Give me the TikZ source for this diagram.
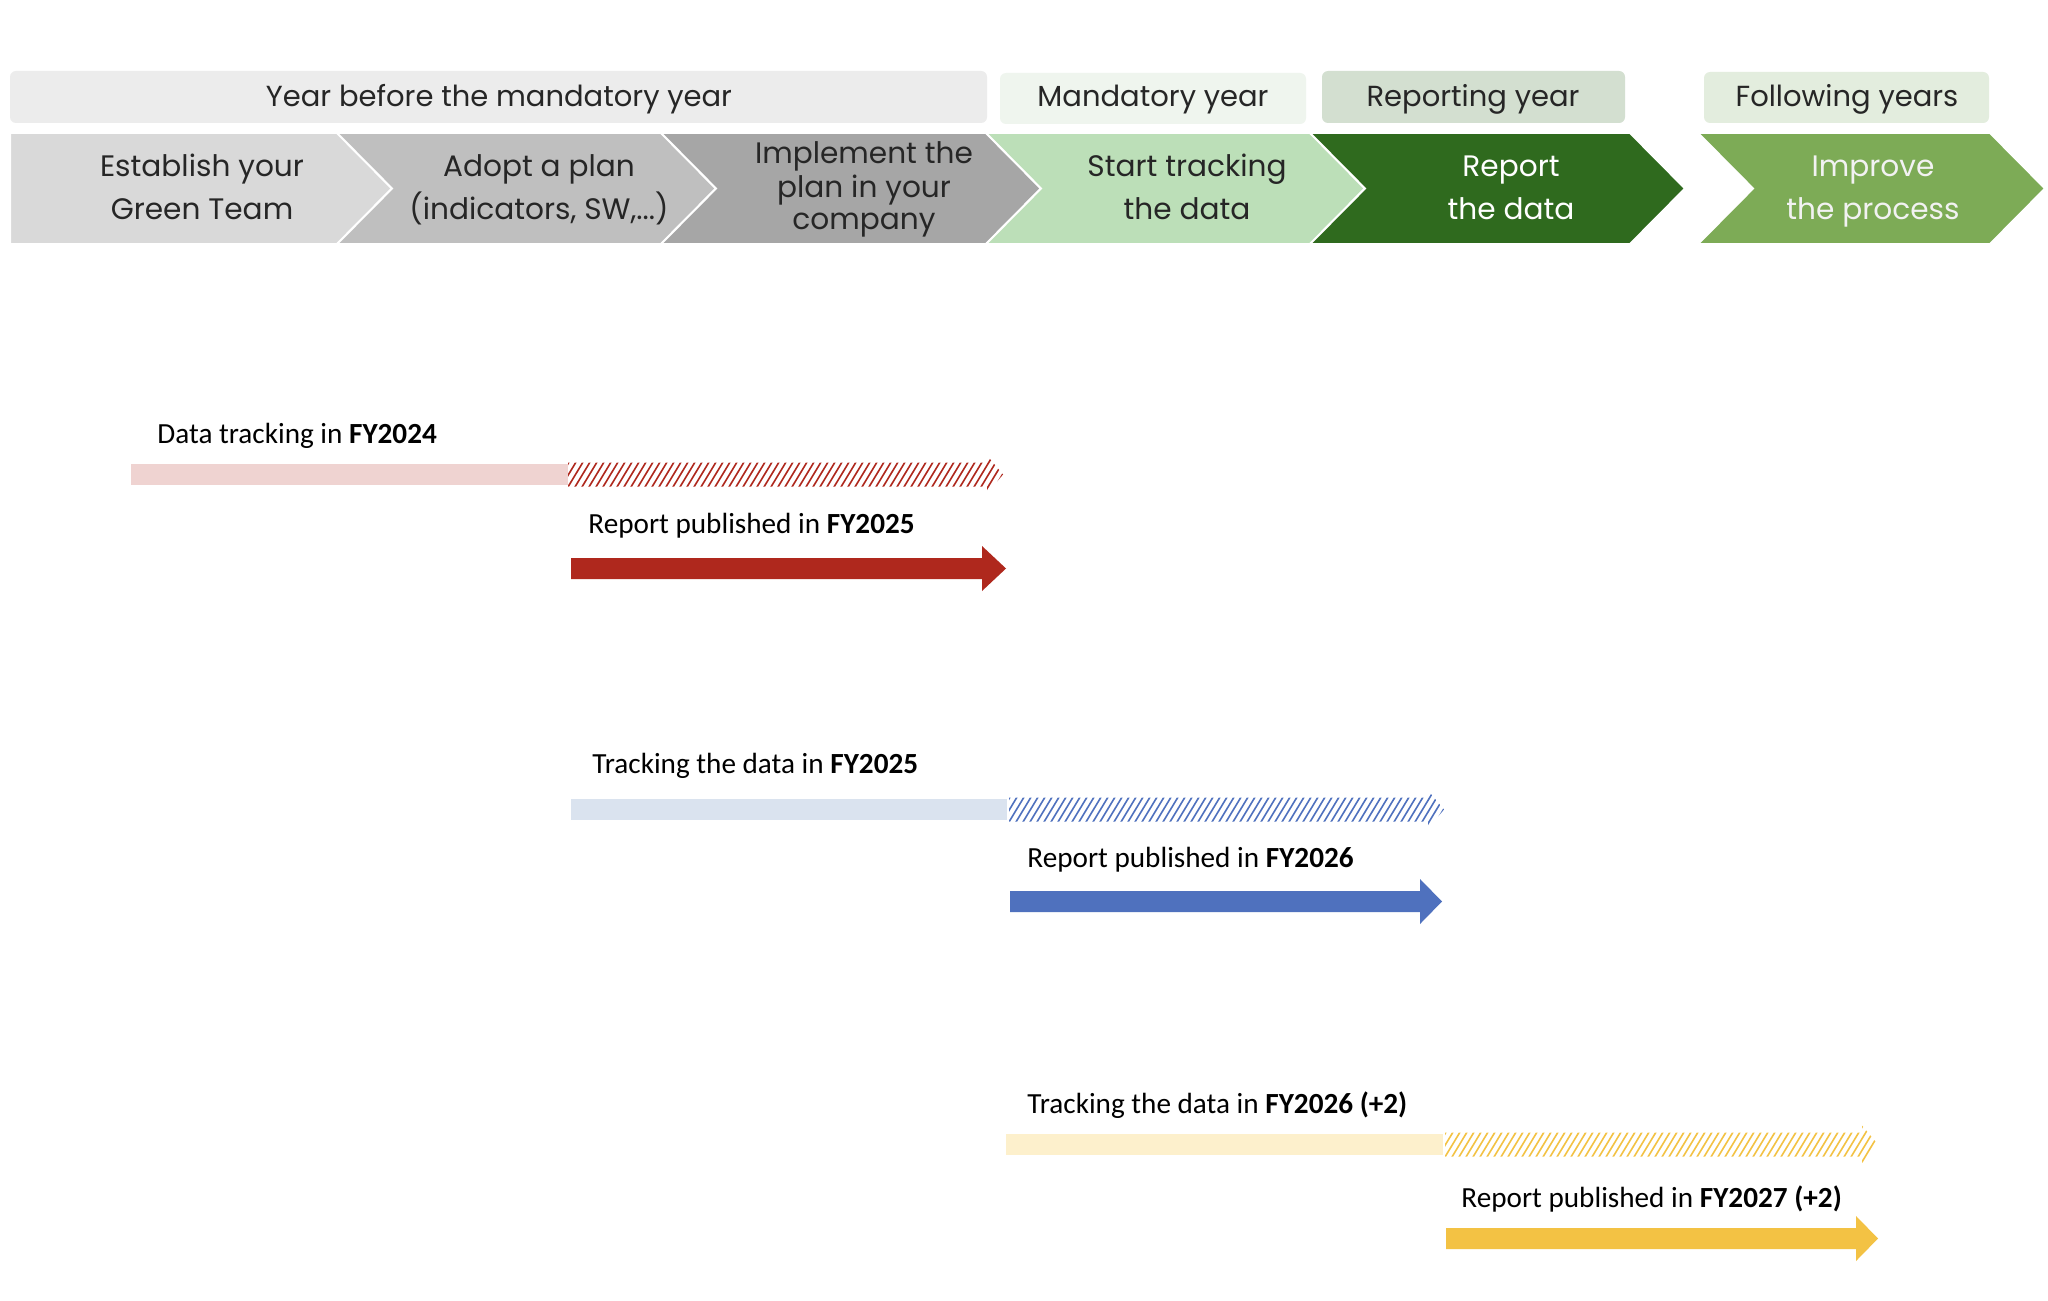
\documentclass[tikz,border=0pt]{standalone}
\usepackage{fontspec}
\setmainfont{Poppins}
\newfontfamily\calib{Carlito}
\usetikzlibrary{calc}
\definecolor{hA}{HTML}{ECECEC}
\definecolor{hB}{HTML}{EFF5EE}
\definecolor{hC}{HTML}{D3DFD0}
\definecolor{hD}{HTML}{E3EDDE}
\definecolor{cA}{HTML}{D9D9D9}
\definecolor{cB}{HTML}{BFBFBF}
\definecolor{cC}{HTML}{A6A6A6}
\definecolor{cD}{HTML}{BCDFB8}
\definecolor{cE}{HTML}{2F6A1E}
\definecolor{cF}{HTML}{7DAB56}
\definecolor{txt}{HTML}{262626}
\definecolor{redA}{HTML}{AF281D}
\definecolor{redL}{HTML}{EFD3D1}
\definecolor{bluA}{HTML}{4F71BE}
\definecolor{bluL}{HTML}{DAE3EF}
\definecolor{yelA}{HTML}{F3C244}
\definecolor{yelL}{HTML}{FDF0CC}
\tikzset{
  hdr/.style={rounded corners=3pt},
  hdrtext/.style={font=\fontsize{14.5}{17}\selectfont, text=txt, inner sep=0},
  chev/.style={draw=white, line width=1pt},
  chevtext/.style={font=\fontsize{14.8}{21.5}\selectfont, align=center, inner sep=0},
  lbl/.style={font=\calib\fontsize{14.6}{17}\selectfont, anchor=base west, inner sep=0, text=black},
}
\newcommand\fatarrow[4]{% start coord, end coord, color, headlen
  \fill[#3] ($(#1)+(0,-10.5)$) -- ($(#2)+(-#4,-10.5)$) -- ($(#2)+(-#4,-22.5)$) -- (#2)
    -- ($(#2)+(-#4,22.5)$) -- ($(#2)+(-#4,10.5)$) -- ($(#1)+(0,10.5)$) -- cycle;}
\newcommand\hatcharrow[3]{% start, end, color
  \begin{scope}
    \clip ($(#1)+(0,-12)$) -- ($(#2)+(-16,-12)$) -- ($(#2)+(-16,-19)$) -- (#2)
      -- ($(#2)+(-16,19)$) -- ($(#2)+(-16,12)$) -- ($(#1)+(0,12)$) -- cycle;
    \foreach \k in {-5,...,66} {
      \draw[#3, line width=0.8pt] ($(#1)+(\k*7,24)$) -- ++(29,-48);
    }
  \end{scope}}
\begin{document}
\begin{tikzpicture}[x=0.5pt,y=-0.5pt]
\useasboundingbox (0,0) rectangle (2048,1300);
\fill[white] (0,0) rectangle (2048,1300);
% headers
\fill[hA, hdr] (10,71) rectangle (987,123);
\node[hdrtext] (h1) at (499,99) {Year before the mandatory year};
\fill[hB, hdr] (1000,73) rectangle (1306,124);
\node[hdrtext] (h2) at (1153,100) {Mandatory year};
\fill[hC, hdr] (1322,71) rectangle (1625,123);
\node[hdrtext] (h3) at (1473,99) {Reporting year};
\fill[hD, hdr] (1704,72) rectangle (1989,123);
\node[hdrtext] (h4) at (1847,99) {Following years};
% chevrons
\filldraw[chev, fill=cA] (10,133) -- (337,133) -- (392,188.5) -- (337,244) -- (10,244) -- cycle;
\filldraw[chev, fill=cB] (337,133) -- (661,133) -- (716,188.5) -- (661,244) -- (337,244) -- (392,188.5) -- cycle;
\filldraw[chev, fill=cC] (661,133) -- (986,133) -- (1041,188.5) -- (986,244) -- (661,244) -- (716,188.5) -- cycle;
\filldraw[chev, fill=cD] (986,133) -- (1310,133) -- (1365,188.5) -- (1310,244) -- (986,244) -- (1041,188.5) -- cycle;
\filldraw[chev, fill=cE] (1310,133) -- (1630,133) -- (1685,188.5) -- (1630,244) -- (1310,244) -- (1365,188.5) -- cycle;
\filldraw[chev, fill=cF] (1698,133) -- (1990,133) -- (2045,188.5) -- (1990,244) -- (1698,244) -- (1753,188.5) -- cycle;
\node[chevtext, text=txt] (s1) at (202,189) {\strut Establish your\\\strut Green Team};
\node[chevtext, text=txt] (s2) at (539,189) {\strut Adopt a plan\\\strut (indicators, SW,...)};
\node[chevtext, text=txt, font=\fontsize{14.8}{16}\selectfont] (s3) at (864,190) {\strut Implement the\\\strut plan in your\\\strut company};
\node[chevtext, text=txt] (s4) at (1187,189) {\strut Start tracking\\\strut the data};
\node[chevtext, text=white] (s5) at (1511,189) {\strut Report\\\strut the data};
\node[chevtext, text=white!95!black] (s6) at (1873,189) {\strut Improve\\\strut the process};
% row 1
\coordinate (r1a) at (131,474.5);
\coordinate (r1b) at (568,474.5);
\coordinate (r1c) at (1003,474.5);
\coordinate (r1d) at (571,568.5);
\coordinate (r1e) at (1006,568.5);
\fill[redL] ($(r1a)+(0,-10.5)$) rectangle ($(r1b)+(0,10.5)$);
\hatcharrow{r1b}{r1c}{redA}
\fatarrow{r1d}{r1e}{redA}{24}
\node[lbl] (l1) at (157,443) {Data tracking in \textbf{FY2024}};
\node[lbl] (l2) at (588,533) {Report published in \textbf{FY2025}};
% row 2
\coordinate (r2a) at (571,809.5);
\coordinate (r2b) at (1009,809.5);
\coordinate (r2c) at (1444,809.5);
\coordinate (r2d) at (1010,901.5);
\coordinate (r2e) at (1442,901.5);
\fill[bluL] ($(r2a)+(0,-10.5)$) rectangle ($(r2b)+(-2,10.5)$);
\hatcharrow{r2b}{r2c}{bluA}
\fatarrow{r2d}{r2e}{bluA}{22}
\node[lbl] (l3) at (592,773) {Tracking the data in \textbf{FY2025}};
\node[lbl] (l4) at (1027,867) {Report published in \textbf{FY2026}};
% row 3
\coordinate (r3a) at (1006,1144.5);
\coordinate (r3b) at (1445,1144.5);
\coordinate (r3c) at (1878,1144.5);
\coordinate (r3d) at (1446,1238.5);
\coordinate (r3e) at (1878,1238.5);
\fill[yelL] ($(r3a)+(0,-10.5)$) rectangle ($(r3b)+(-2,10.5)$);
\hatcharrow{r3b}{r3c}{yelA}
\fatarrow{r3d}{r3e}{yelA}{22}
\node[lbl] (l5) at (1027,1113) {Tracking the data in \textbf{FY2026 (+2)}};
\node[lbl] (l6) at (1461,1207) {Report published in \textbf{FY2027 (+2)}};
\end{tikzpicture}
\end{document}
